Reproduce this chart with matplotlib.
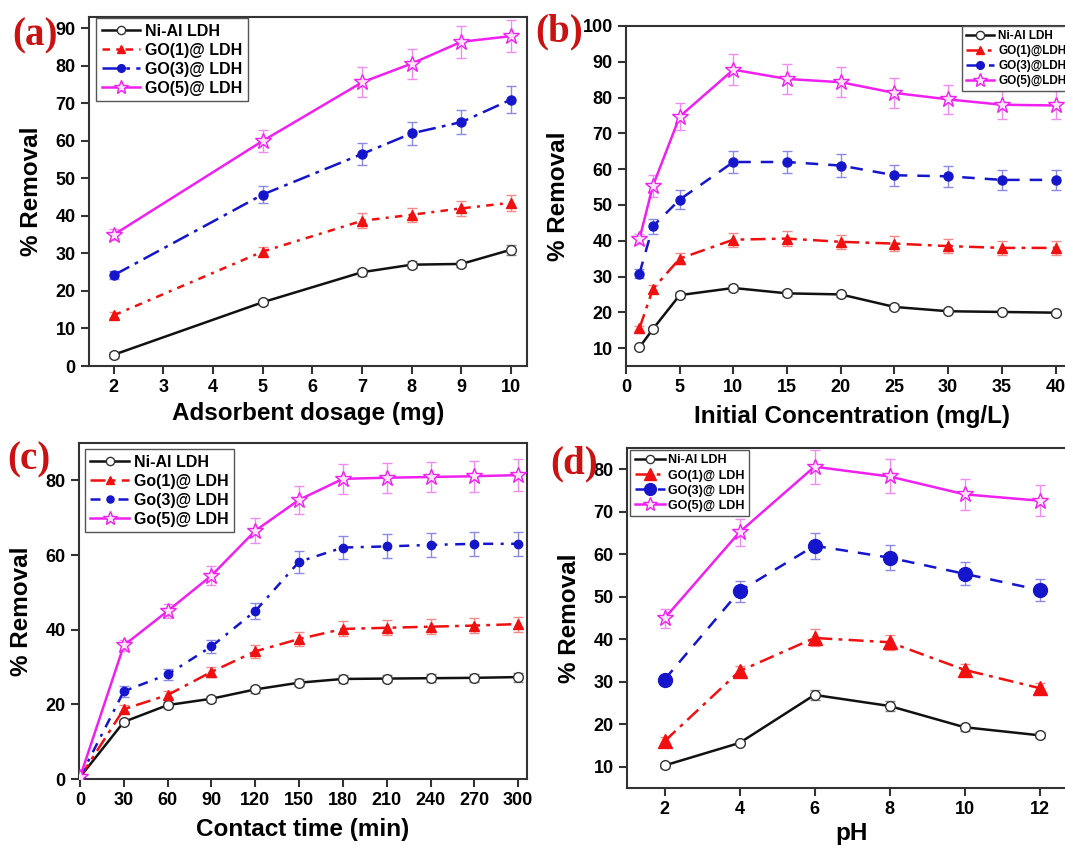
import numpy as np
import matplotlib
matplotlib.use("Agg")
import matplotlib.pyplot as plt

plt.rcParams["font.family"] = ["Liberation Sans", "DejaVu Sans"]
plt.rcParams["font.weight"] = "bold"

# (a) adsorbent dosage
dose = [2, 5, 7, 8, 9, 10]
dose_nial = [3.0, 17.0, 25.0, 27.0, 27.2, 31.0]
dose_go1 = [13.5, 30.5, 38.7, 40.3, 42.0, 43.5]
dose_go3 = [24.2, 45.7, 56.5, 62.0, 65.0, 71.0]
dose_go5 = [35.0, 60.0, 75.6, 80.6, 86.4, 87.9]
dose_err_nial = [0.8, 0.8, 0.9, 0.9, 0.9, 1.3]
dose_err_go1 = [0.8, 1.3, 2.0, 1.9, 2.1, 2.2]
dose_err_go3 = [1.0, 2.3, 2.9, 3.1, 3.3, 3.6]
dose_err_go5 = [1.5, 3.0, 4.0, 4.0, 4.3, 4.3]

# (b) initial concentration
conc = [1.25, 2.5, 5, 10, 15, 20, 25, 30, 35, 40]
conc_nial = [10.2, 15.3, 24.8, 26.8, 25.3, 25.0, 21.5, 20.3, 20.1, 19.9]
conc_go1 = [15.5, 26.5, 35.0, 40.3, 40.6, 39.7, 39.2, 38.5, 38.0, 38.0]
conc_go3 = [30.8, 44.0, 51.5, 62.0, 62.0, 61.0, 58.3, 58.0, 57.0, 57.0]
conc_go5 = [40.5, 55.3, 74.7, 87.8, 85.2, 84.3, 81.3, 79.5, 78.0, 77.8]
conc_err_nial = [0.5, 0.6, 0.8, 0.9, 0.8, 0.8, 0.7, 0.6, 0.6, 0.6]
conc_err_go1 = [0.8, 1.2, 1.6, 2.0, 2.0, 2.0, 2.0, 2.0, 1.9, 1.9]
conc_err_go3 = [1.2, 2.0, 2.7, 3.2, 3.2, 3.1, 3.0, 3.0, 2.8, 2.8]
conc_err_go5 = [1.5, 3.0, 3.7, 4.3, 4.3, 4.2, 4.1, 4.0, 3.9, 3.9]

# (c) contact time
ctime = [0, 30, 60, 90, 120, 150, 180, 210, 240, 270, 300]
time_nial = [0.5, 15.3, 19.8, 21.5, 24.0, 25.8, 26.8, 26.9, 27.0, 27.1, 27.3]
time_go1 = [0.5, 18.7, 22.5, 28.7, 34.2, 37.5, 40.2, 40.5, 40.8, 41.1, 41.5]
time_go3 = [0.5, 23.5, 28.0, 35.5, 45.0, 58.2, 62.0, 62.3, 62.7, 63.0, 63.0]
time_go5 = [0.5, 35.8, 45.0, 54.5, 66.5, 74.8, 80.4, 80.7, 80.9, 81.1, 81.4]
time_err_nial = [0, 0.6, 0.7, 0.8, 0.9, 1.0, 1.0, 1.0, 1.0, 1.0, 1.2]
time_err_go1 = [0, 1.0, 1.0, 1.3, 1.7, 1.8, 2.0, 2.0, 2.0, 2.0, 2.0]
time_err_go3 = [0, 1.5, 1.5, 1.8, 2.2, 3.0, 3.2, 3.2, 3.2, 3.2, 3.2]
time_err_go5 = [0, 1.5, 2.0, 2.5, 3.3, 3.8, 4.0, 4.0, 4.1, 4.1, 4.2]

# (d) pH
ph = [2, 4, 6, 8, 10, 12]
ph_nial = [10.3, 15.6, 26.9, 24.3, 19.3, 17.4]
ph_go1 = [16.0, 32.5, 40.3, 39.3, 32.8, 28.5]
ph_go3 = [30.5, 51.3, 62.0, 59.2, 55.4, 51.6]
ph_go5 = [44.9, 65.2, 80.6, 78.3, 74.1, 72.6]
ph_err_nial = [0.5, 0.5, 1.2, 1.2, 0.8, 0.7]
ph_err_go1 = [1.0, 1.2, 2.0, 1.8, 1.3, 1.2]
ph_err_go3 = [1.2, 2.5, 3.1, 3.0, 2.7, 2.6]
ph_err_go5 = [2.3, 3.2, 4.0, 4.0, 3.7, 3.6]

labels_a = ["Ni-Al LDH", "GO(1)@ LDH", "GO(3)@ LDH", "GO(5)@ LDH"]
labels_b = ["Ni-Al LDH", "GO(1)@LDH", "GO(3)@LDH", "GO(5)@LDH"]
labels_c = ["Ni-Al LDH", "Go(1)@ LDH", "Go(3)@ LDH", "Go(5)@ LDH"]
labels_d = ["Ni-Al LDH", "GO(1)@ LDH", "GO(3)@ LDH", "GO(5)@ LDH"]

BLACK = "#111111"
RED = "#f01010"
BLUE = "#1515cc"
MAGENTA = "#f020f0"
ERR = ["#888888", "#f28a8a", "#8a8ae6", "#f08cf0"]

fig = plt.figure(figsize=(10.65, 8.46), dpi=100)
W, H = 1065.0, 846.0


def make_ax(left, top, right, bottom):
    return fig.add_axes([left / W, 1 - bottom / H, (right - left) / W, (bottom - top) / H])


def panel(ax, x, ys, errs, labels, styles, msize, leg_anchor, leg_size):
    colors = [BLACK, RED, BLUE, MAGENTA]
    markers = ["o", "^", "o", "*"]
    faces = ["white", RED, BLUE, "#fde6fd"]
    handles = []
    for i in range(4):
        ax.errorbar(x, ys[i], yerr=errs[i], fmt="none", ecolor=ERR[i],
                    elinewidth=1.0, capsize=3.5, capthick=1.0, zorder=2)
        (h,) = ax.plot(x, ys[i], color=colors[i], linestyle=styles[i], lw=1.8,
                       marker=markers[i], ms=msize[i], mfc=faces[i],
                       mec=colors[i] if i != 0 else "#333333", mew=1.0,
                       label=labels[i], zorder=3)
        handles.append(h)
    leg = ax.legend(handles=handles, loc="upper left", bbox_to_anchor=leg_anchor,
                    borderaxespad=0, fancybox=False, edgecolor="#555555",
                    framealpha=1, prop={"weight": "bold", "size": leg_size},
                    handlelength=2.4, handletextpad=0.3, labelspacing=0.25,
                    borderpad=0.35, markerscale=0.85)
    leg.get_frame().set_linewidth(1.0)
    for s in ax.spines.values():
        s.set_linewidth(1.5)
        s.set_color("#333333")
    ax.tick_params(direction="out", length=6, width=1.5, labelsize=13,
                   top=False, right=False, color="#333333")
    for t in ax.get_xticklabels() + ax.get_yticklabels():
        t.set_fontweight("bold")
    ax.set_ylabel("% Removal", fontsize=17.5, fontweight="bold", labelpad=9)


dash_long = (0, (5, 4))

# (a)
ax_a = make_ax(89, 17, 527, 366)
panel(ax_a, dose, [dose_nial, dose_go1, dose_go3, dose_go5],
      [dose_err_nial, dose_err_go1, dose_err_go3, dose_err_go5], labels_a,
      ["-", (0, (3, 2.5, 1.2, 2.5)), (0, (7, 2.5, 1.5, 2.5)), "-"],
      [7, 7, 6.5, 12], (0.016, 0.997), 11.5)
ax_a.set_xlim(1.5, 10.32)
ax_a.set_ylim(0, 93)
ax_a.set_xticks(range(2, 11))
ax_a.set_yticks(range(0, 91, 10))
ax_a.set_xlabel("Adsorbent dosage (mg)", fontsize=17.5, fontweight="bold", labelpad=4)

# (b)
ax_b = make_ax(626, 26, 1077, 366)
panel(ax_b, conc, [conc_nial, conc_go1, conc_go3, conc_go5],
      [conc_err_nial, conc_err_go1, conc_err_go3, conc_err_go5], labels_b,
      ["-", (0, (6, 2.5, 1.5, 2.5)), dash_long, "-"],
      [7, 7, 6.5, 12], (0.745, 1.0), 8.5)
ax_b.set_xlim(0, 42)
ax_b.set_ylim(5, 100)
ax_b.set_xticks(range(0, 41, 5))
ax_b.set_yticks(range(10, 101, 10))
ax_b.set_xlabel("Initial Concentration (mg/L)", fontsize=17.5, fontweight="bold", labelpad=6)

# (c)
ax_c = make_ax(79, 443, 527, 779)
panel(ax_c, ctime, [time_nial, time_go1, time_go3, time_go5],
      [time_err_nial, time_err_go1, time_err_go3, time_err_go5], labels_c,
      ["-", (0, (6, 2.5, 1.5, 2.5)), (0, (4, 3, 1.2, 3)), "-"],
      [7, 7, 6, 12], (0.013, 0.982), 11.5)
ax_c.set_xlim(-0.7, 306)
ax_c.set_ylim(0, 90)
ax_c.set_xticks(range(0, 301, 30))
ax_c.set_yticks(range(0, 81, 20))
ax_c.set_xlabel("Contact time (min)", fontsize=17.5, fontweight="bold", labelpad=6)

# (d)
ax_d = make_ax(627, 448, 1077, 788)
panel(ax_d, ph, [ph_nial, ph_go1, ph_go3, ph_go5],
      [ph_err_nial, ph_err_go1, ph_err_go3, ph_err_go5], labels_d,
      ["-", (0, (6, 2.5, 1.5, 2.5)), dash_long, "-"],
      [7, 10, 10, 12], (0.007, 0.994), 9)
ax_d.set_xlim(1, 13)
ax_d.set_ylim(5, 85)
ax_d.set_xticks(range(2, 13, 2))
ax_d.set_yticks(range(10, 81, 10))
ax_d.set_xlabel("pH", fontsize=17.5, fontweight="bold", labelpad=3)

# panel letters
for txt, xp, yp in [("(a)", 12, 36), ("(b)", 535, 32), ("(c)", 7, 460), ("(d)", 550, 464)]:
    fig.text(xp / W, 1 - yp / H, txt, fontsize=28, fontweight="bold", color="#cc1111",
             family=["Liberation Serif", "DejaVu Serif"], va="center", ha="left")

fig.savefig("out.png", dpi=100)
